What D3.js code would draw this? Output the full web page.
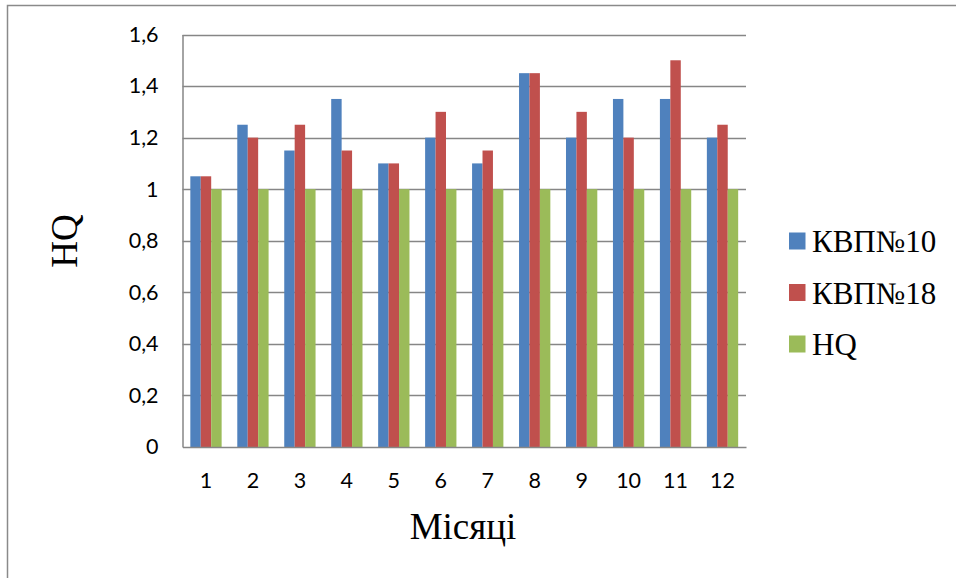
<!DOCTYPE html>
<html>
<head>
<meta charset="utf-8">
<script src="https://cdn.jsdelivr.net/npm/d3@7"></script>
<style>
  html, body { margin: 0; padding: 0; background: #fff; }
  svg { display: block; }
  .serif { font-family: "Liberation Serif", "Times New Roman", serif; }
</style>
</head>
<body>
<svg id="chart" width="956" height="578"></svg>
<script>
// Monthly HQ values for two outpatient clinics against the reference level
const months = ["1", "2", "3", "4", "5", "6", "7", "8", "9", "10", "11", "12"];
const seriesNames = ["КВП№10", "КВП№18", "HQ"];
const kvp10 = [1.05, 1.25, 1.15, 1.35, 1.1, 1.2, 1.1, 1.45, 1.2, 1.35, 1.35, 1.2];
const kvp18 = [1.05, 1.2, 1.25, 1.15, 1.1, 1.3, 1.15, 1.45, 1.3, 1.2, 1.5, 1.25];
const hq = [1, 1, 1, 1, 1, 1, 1, 1, 1, 1, 1, 1];
const yTicks = [0, 0.2, 0.4, 0.6, 0.8, 1, 1.2, 1.4, 1.6];
const colors = ["#4F81BD", "#C0504D", "#9BBB59"];

const seriesValues = [kvp10, kvp18, hq];

const svg = d3.select("#chart");

// outer frame (top and left edges visible)
svg.append("path")
  .attr("d", "M7.5,578 L7.5,5.5 L956,5.5")
  .attr("fill", "none")
  .attr("stroke", "#8a8a8a")
  .attr("stroke-width", 1.5);

const plot = { left: 182.5, right: 746, top: 34.5, bottom: 447 };

const x = d3.scaleBand()
  .domain(months)
  .range([plot.left, plot.right])
  .paddingInner(0)
  .paddingOuter(0);

const y = d3.scaleLinear()
  .domain([0, 1.6])
  .range([plot.bottom, plot.top]);

// gap between groups equals 1.5 bar widths
const barW = x.bandwidth() / (3 + 1.5);
const x1 = d3.scaleBand()
  .domain(seriesNames)
  .range([x.bandwidth() / 2 - 1.5 * barW, x.bandwidth() / 2 + 1.5 * barW]);

// horizontal gridlines
svg.append("g")
  .selectAll("line")
  .data(yTicks.filter(d => d > 0))
  .join("line")
  .attr("x1", plot.left)
  .attr("x2", plot.right)
  .attr("y1", d => Math.round(y(d)) + 0.5)
  .attr("y2", d => Math.round(y(d)) + 0.5)
  .attr("stroke", "#868686")
  .attr("stroke-width", 1.3);

// bars
const rows = months.map((m, i) => ({ m, vals: seriesValues.map(s => s[i]) }));
const groups = svg.append("g")
  .selectAll("g")
  .data(rows)
  .join("g")
  .attr("transform", d => `translate(${x(d.m)},0)`);

groups.selectAll("rect")
  .data(d => d.vals.map((v, k) => ({ v, k })))
  .join("rect")
  .attr("x", d => x1(seriesNames[d.k]))
  .attr("width", x1.bandwidth())
  .attr("y", d => y(d.v))
  .attr("height", d => y(0) - y(d.v))
  .attr("fill", d => colors[d.k]);

// y axis
const yAxis = svg.append("g")
  .attr("transform", `translate(${plot.left},0)`)
  .call(d3.axisLeft(y).tickValues(yTicks).tickSize(0).tickPadding(24)
    .tickFormat(d => d3.format(".1f")(d).replace(".", ",").replace(/,0$/, "")));
yAxis.select(".domain").attr("stroke", "#868686").attr("stroke-width", 1.5);
yAxis.selectAll("text")
  .attr("font-family", "Lato, 'Open Sans', sans-serif")
  .attr("font-size", 21.5)
  .attr("fill", "#000");

// x axis
const xAxis = svg.append("g")
  .attr("transform", `translate(0,${plot.bottom})`)
  .call(d3.axisBottom(x).tickSize(0).tickPadding(26));
xAxis.select(".domain").attr("stroke", "#868686").attr("stroke-width", 1.5);
xAxis.selectAll("text")
  .attr("font-family", "Lato, 'Open Sans', sans-serif")
  .attr("font-size", 21.5)
  .attr("fill", "#000");

// axis titles
svg.append("text")
  .attr("class", "serif")
  .attr("transform", "translate(77,241) rotate(-90)")
  .attr("text-anchor", "middle")
  .attr("font-size", 37)
  .attr("fill", "#000")
  .text("HQ");

svg.append("text")
  .attr("class", "serif")
  .attr("x", 463)
  .attr("y", 539)
  .attr("text-anchor", "middle")
  .attr("font-size", 37)
  .attr("fill", "#000")
  .text("Місяці");

// legend
const legend = svg.append("g")
  .selectAll("g")
  .data(seriesNames)
  .join("g")
  .attr("transform", (d, i) => `translate(789,${241 + i * 51.5})`);
legend.append("rect")
  .attr("x", 0)
  .attr("y", -8.5)
  .attr("width", 16.5)
  .attr("height", 17)
  .attr("fill", (d, i) => colors[i]);
legend.append("text")
  .attr("class", "serif")
  .attr("x", 23)
  .attr("y", 11)
  .attr("font-size", 31)
  .attr("fill", "#000")
  .text(d => d);
</script>
</body>
</html>
